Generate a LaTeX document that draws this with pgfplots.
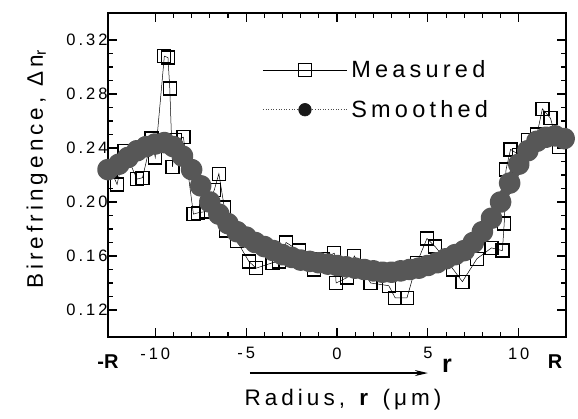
\documentclass[border=0pt]{standalone}
\usepackage{pgfplots}
\pgfplotsset{compat=1.18}
\usepackage{pgfplotstable}
\usepackage{fontspec}
\setmainfont{Liberation Sans}[LetterSpace=18]
\usetikzlibrary{arrows.meta}

\pgfplotstableread{
x y
-12.45 0.224
-12.10 0.213
-11.70 0.238
-11.00 0.217
-10.70 0.218
-10.20 0.247
-10.00 0.233
-9.50 0.308
-9.30 0.307
-9.20 0.284
-9.05 0.226
-8.90 0.246
-8.45 0.248
-7.90 0.191
-7.65 0.192
-7.20 0.193
-6.75 0.209
-6.50 0.221
-6.20 0.196
-6.10 0.179
-5.50 0.171
-4.85 0.156
-4.45 0.151
-3.55 0.155
-3.20 0.156
-2.80 0.170
-2.10 0.164
-1.60 0.158
-1.25 0.150
-0.80 0.158
-0.15 0.162
-0.05 0.140
0.55 0.144
0.95 0.160
1.85 0.140
2.85 0.138
3.20 0.129
3.85 0.129
4.40 0.155
4.95 0.173
5.40 0.167
6.40 0.150
6.90 0.141
7.70 0.158
8.50 0.166
9.10 0.164
9.20 0.184
9.30 0.224
9.55 0.239
10.00 0.235
10.50 0.246
11.00 0.250
11.30 0.269
11.75 0.262
12.00 0.249
12.20 0.241
}\measured

\pgfplotstableread{
x y
-12.6 0.224
-12.0 0.228
-11.5 0.233
-11.0 0.238
-10.5 0.241
-10.0 0.243
-9.5 0.244
-9.0 0.241
-8.5 0.234
-8.0 0.224
-7.5 0.212
-7.0 0.200
-6.5 0.191
-6.0 0.184
-5.5 0.178
-5.0 0.174
-4.5 0.170
-4.0 0.167
-3.5 0.164
-3.0 0.161
-2.5 0.159
-2.0 0.157
-1.5 0.156
-1.0 0.155
-0.5 0.154
0.0 0.153
0.5 0.152
1.0 0.151
1.5 0.150
2.0 0.149
2.5 0.148
3.0 0.148
3.5 0.149
4.0 0.150
4.5 0.151
5.0 0.153
5.5 0.155
6.0 0.158
6.5 0.161
7.0 0.164
7.5 0.170
8.0 0.178
8.5 0.188
9.0 0.200
9.5 0.214
10.0 0.228
10.5 0.238
11.0 0.245
11.5 0.248
12.0 0.249
12.5 0.247
}\smoothed

\begin{document}
\begin{tikzpicture}
\useasboundingbox (-108pt,-81pt) rectangle (470pt,337pt);
\begin{axis}[
  at={(0pt,0pt)}, anchor=south west,
  scale only axis, width=458pt, height=324pt,
  xmin=-12.6, xmax=12.6, ymin=0.10, ymax=0.34,
  xtick={-10,-5,0,5,10}, xticklabels={-10,-5,0,5,10},
  ytick={0.12,0.16,0.20,0.24,0.28,0.32},
  yticklabels={0.12,0.16,0.20,0.24,0.28,0.32},
  minor x tick num=4, minor y tick num=3,
  major tick length=9pt, minor tick length=5pt,
  tick style={line width=1.1pt, black},
  axis line style={line width=1.6pt},
  ticklabel style={font=\fontsize{16.5}{19}\selectfont},
  xticklabel style={yshift=-7pt},
  yticklabel style={xshift=3pt},
  clip=false,
  xlabel={Radius, \textbf{r} (μm)},
  ylabel={Birefringence, Δn\textsubscript{r}},
  label style={font=\fontsize{22.5}{25}\selectfont},
  xlabel style={at={(rel axis cs:0.513,0)}, anchor=center, yshift=-63pt},
  ylabel style={at={(rel axis cs:0,0.518)}, anchor=center, yshift=71pt},
  legend image code/.code={\draw[mark repeat=2,mark phase=2,#1] plot coordinates {(0pt,0pt) (42pt,0pt) (84pt,0pt)};},
  legend style={draw=none, fill=none, at={(axis cs:-4.1,0.283)}, anchor=west,
    font=\fontsize{23.5}{26}\selectfont, row sep=13pt, inner sep=0pt,
    nodes={inner sep=4pt}},
  legend cell align=left,
]
\addplot[black, line width=0.5pt, mark=square, mark size=6.5pt,
  mark options={solid, fill=white, line width=1.3pt}, forget plot] table {\measured};
\addplot[black!66, line width=10pt, line join=round, mark=*, mark size=5.8pt,
  mark options={draw=none, fill=black!66}, forget plot] table {\smoothed};

\addlegendimage{black, line width=0.6pt, mark=square, mark size=6.5pt,
  mark options={solid, fill=white, line width=1.2pt}}
\addlegendentry{Measured}
\addlegendimage{black!70, dotted, line width=0.6pt, mark=*, mark size=6.3pt,
  mark options={solid, fill=black!90, draw=black!90}}
\addlegendentry{Smoothed}

\draw[line width=1.2pt, -{Stealth[length=13pt,width=6pt]}] (axis cs:-4.8,0.0733) -- (axis cs:5.0,0.0733);
\node[font=\bfseries\fontsize{25}{28}\selectfont] at (axis cs:6.05,0.079) {r};
\node[font=\bfseries\fontsize{20}{22}\selectfont\addfontfeatures{LetterSpace=0}] at (axis cs:-12.6,0.0815) {-R};
\node[font=\bfseries\fontsize{20}{22}\selectfont\addfontfeatures{LetterSpace=0}] at (axis cs:12.0,0.0815) {R};
\end{axis}
\end{tikzpicture}
\end{document}
